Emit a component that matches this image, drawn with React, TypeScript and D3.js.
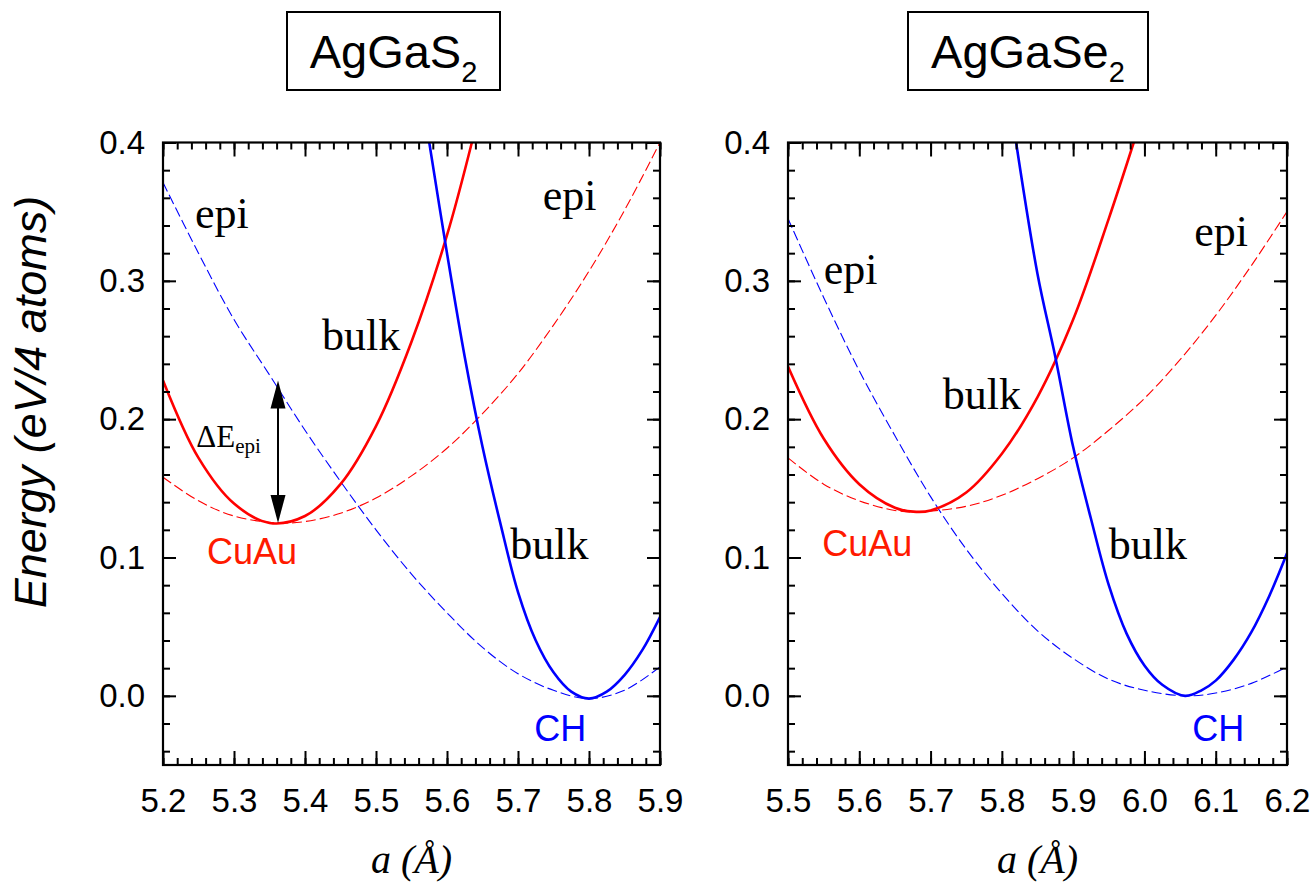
import React, { useRef, useEffect } from 'react';
import * as d3 from 'd3';

// AgGaS2 (left panel), a in Angstrom, E in eV/4 atoms
const sCuAuBulk = [[5.20, 0.228], [5.25, 0.172], [5.30, 0.139], [5.35, 0.125], [5.40, 0.130], [5.45, 0.153], [5.50, 0.195], [5.55, 0.256], [5.60, 0.333], [5.635, 0.400]];
const sCuAuEpi = [[5.20, 0.158], [5.25, 0.141], [5.30, 0.130], [5.362, 0.125], [5.40, 0.126], [5.45, 0.132], [5.50, 0.143], [5.55, 0.159], [5.60, 0.179], [5.65, 0.204], [5.70, 0.233], [5.75, 0.268], [5.80, 0.307], [5.85, 0.351], [5.90, 0.400]];
const sChBulk = [[5.575, 0.400], [5.60, 0.320], [5.625, 0.245], [5.65, 0.180], [5.675, 0.125], [5.70, 0.075], [5.725, 0.040], [5.75, 0.017], [5.775, 0.003], [5.80, -0.002], [5.825, 0.003], [5.85, 0.015], [5.875, 0.033], [5.90, 0.057]];
const sChEpi = [[5.20, 0.371], [5.25, 0.320], [5.30, 0.272], [5.35, 0.232], [5.40, 0.192], [5.45, 0.155], [5.50, 0.120], [5.55, 0.088], [5.60, 0.060], [5.65, 0.035], [5.70, 0.016], [5.75, 0.004], [5.80, -0.002], [5.85, 0.004], [5.90, 0.021]];

// AgGaSe2 (right panel)
const seCuAuBulk = [[5.50, 0.238], [5.55, 0.186], [5.60, 0.153], [5.65, 0.136], [5.68, 0.133], [5.70, 0.134], [5.75, 0.147], [5.80, 0.175], [5.85, 0.216], [5.90, 0.272], [5.95, 0.345], [5.985, 0.400]];
const seCuAuEpi = [[5.50, 0.172], [5.55, 0.153], [5.60, 0.141], [5.65, 0.134], [5.68, 0.133], [5.75, 0.137], [5.80, 0.145], [5.85, 0.157], [5.90, 0.172], [5.95, 0.192], [6.00, 0.215], [6.05, 0.243], [6.10, 0.275], [6.15, 0.311], [6.20, 0.350]];
const seChBulk = [[5.82, 0.400], [5.85, 0.305], [5.875, 0.245], [5.90, 0.180], [5.925, 0.128], [5.95, 0.080], [5.975, 0.045], [6.00, 0.022], [6.025, 0.008], [6.057, 0.000], [6.08, 0.004], [6.10, 0.011], [6.125, 0.026], [6.15, 0.046], [6.175, 0.072], [6.20, 0.103]];
const seChEpi = [[5.50, 0.345], [5.55, 0.288], [5.60, 0.235], [5.65, 0.188], [5.70, 0.144], [5.75, 0.106], [5.80, 0.074], [5.85, 0.047], [5.90, 0.027], [5.95, 0.012], [6.00, 0.004], [6.057, 0.000], [6.10, 0.002], [6.15, 0.009], [6.20, 0.021]];

const yDomain = [-0.05, 0.4];
const yMajor = [0.0, 0.1, 0.2, 0.3, 0.4];
const sXDomain = [5.2, 5.9];
const seXDomain = [5.5, 6.2];

// delta E_epi arrow on the AgGaS2 panel: [a, E top, E bottom]
const deltaEpi = [5.362, 0.228, 0.125];

const SANS = "'Liberation Sans', Arial, sans-serif";
const SERIF = "'Liberation Serif', 'Times New Roman', serif";
const RED = '#ff0000';
const BLUE = '#0000ff';

const panels = [
  {
    title: 'AgGaS', left: 163, right: 660, box: [287, 500], xDomain: sXDomain,
    curves: [
      { data: sCuAuEpi, color: RED, dashed: true },
      { data: sChEpi, color: BLUE, dashed: true },
      { data: sCuAuBulk, color: RED, dashed: false },
      { data: sChBulk, color: BLUE, dashed: false },
    ],
    labels: [
      { t: 'epi', a: 5.245, e: 0.338, serif: true, color: '#000' },
      { t: 'epi', a: 5.735, e: 0.351, serif: true, color: '#000' },
      { t: 'bulk', a: 5.424, e: 0.250, serif: true, color: '#000' },
      { t: 'bulk', a: 5.689, e: 0.099, serif: true, color: '#000' },
      { t: 'CuAu', a: 5.262, e: 0.095, serif: false, color: '#ff1a00' },
      { t: 'CH', a: 5.723, e: -0.033, serif: false, color: BLUE },
    ],
    arrow: true,
  },
  {
    title: 'AgGaSe', left: 788, right: 1287, box: [908, 1148], xDomain: seXDomain,
    curves: [
      { data: seCuAuEpi, color: RED, dashed: true },
      { data: seChEpi, color: BLUE, dashed: true },
      { data: seCuAuBulk, color: RED, dashed: false },
      { data: seChBulk, color: BLUE, dashed: false },
    ],
    labels: [
      { t: 'epi', a: 5.55, e: 0.298, serif: true, color: '#000' },
      { t: 'epi', a: 6.07, e: 0.325, serif: true, color: '#000' },
      { t: 'bulk', a: 5.717, e: 0.207, serif: true, color: '#000' },
      { t: 'bulk', a: 5.95, e: 0.099, serif: true, color: '#000' },
      { t: 'CuAu', a: 5.548, e: 0.101, serif: false, color: '#ff1a00' },
      { t: 'CH', a: 6.067, e: -0.033, serif: false, color: BLUE },
    ],
    arrow: false,
  },
];

const yTop = 142.5;
const yBot = 765;

function App() {
  const svgRef = useRef(null);

  useEffect(() => {
    const svg = d3.select(svgRef.current);
    svg.selectAll('*').remove();

    svg.append('text')
      .attr('transform', 'translate(46,402) rotate(-90)')
      .attr('text-anchor', 'middle')
      .attr('font-family', SANS)
      .attr('font-style', 'italic')
      .attr('font-size', 45)
      .text('Energy (eV/4 atoms)');

    panels.forEach((p, i) => {
      const x = d3.scaleLinear().domain(p.xDomain).range([p.left, p.right]);
      const y = d3.scaleLinear().domain(yDomain).range([yBot, yTop]);
      const g = svg.append('g');

      const clipId = 'plotclip' + i;
      g.append('clipPath').attr('id', clipId)
        .append('rect')
        .attr('x', p.left).attr('y', yTop)
        .attr('width', p.right - p.left).attr('height', yBot - yTop);

      // title box
      g.append('rect')
        .attr('x', p.box[0]).attr('y', 12)
        .attr('width', p.box[1] - p.box[0]).attr('height', 78)
        .attr('fill', 'none').attr('stroke', '#000').attr('stroke-width', 2);
      const tt = g.append('text')
        .attr('x', (p.box[0] + p.box[1]) / 2).attr('y', 68)
        .attr('text-anchor', 'middle')
        .attr('font-family', SANS).attr('font-size', 47);
      tt.append('tspan').text(p.title);
      tt.append('tspan').attr('font-size', 29).attr('dy', 14).text('2');

      const line = d3.line()
        .x(d => x(d[0]))
        .y(d => y(d[1]))
        .curve(d3.curveCatmullRom.alpha(0.5));

      p.curves.forEach(c => {
        g.append('path')
          .attr('d', line(c.data))
          .attr('fill', 'none')
          .attr('stroke', c.color)
          .attr('stroke-width', c.dashed ? 1.1 : 2.6)
          .attr('stroke-dasharray', c.dashed ? '10,4' : null)
          .attr('clip-path', `url(#${clipId})`);
      });

      // ticks, all inward
      const xMajor = d3.range(0, 8).map(k => p.xDomain[0] + k * 0.1);
      const xMinor = d3.range(0, 36).map(k => p.xDomain[0] + k * 0.02);
      const yMinor = d3.range(0, 23).map(k => -0.04 + k * 0.02);

      const styleAxis = sel => {
        sel.select('.domain').remove();
        sel.selectAll('line').attr('stroke', '#000').attr('stroke-width', 2);
        sel.attr('font-family', SANS).attr('font-size', 33);
        sel.selectAll('text').attr('fill', '#000');
      };

      g.append('g').attr('transform', `translate(0,${yBot})`)
        .call(d3.axisBottom(x).tickValues(xMinor).tickSize(-7).tickFormat(() => ''))
        .call(styleAxis);
      g.append('g').attr('transform', `translate(0,${yBot})`)
        .call(d3.axisBottom(x).tickValues(xMajor).tickSize(-14).tickPadding(24).tickFormat(d3.format('.1f')))
        .call(styleAxis);
      g.append('g').attr('transform', `translate(0,${yTop})`)
        .call(d3.axisTop(x).tickValues(xMinor).tickSize(-7).tickFormat(() => ''))
        .call(styleAxis);
      g.append('g').attr('transform', `translate(0,${yTop})`)
        .call(d3.axisTop(x).tickValues(xMajor).tickSize(-14).tickFormat(() => ''))
        .call(styleAxis);

      g.append('g').attr('transform', `translate(${p.left},0)`)
        .call(d3.axisLeft(y).tickValues(yMinor).tickSize(-7).tickFormat(() => ''))
        .call(styleAxis);
      g.append('g').attr('transform', `translate(${p.left},0)`)
        .call(d3.axisLeft(y).tickValues(yMajor).tickSize(-13).tickPadding(18).tickFormat(d3.format('.1f')))
        .call(styleAxis);
      g.append('g').attr('transform', `translate(${p.right},0)`)
        .call(d3.axisRight(y).tickValues(yMinor).tickSize(-7).tickFormat(() => ''))
        .call(styleAxis);
      g.append('g').attr('transform', `translate(${p.right},0)`)
        .call(d3.axisRight(y).tickValues(yMajor).tickSize(-13).tickFormat(() => ''))
        .call(styleAxis);

      g.append('rect')
        .attr('x', p.left).attr('y', yTop)
        .attr('width', p.right - p.left).attr('height', yBot - yTop)
        .attr('fill', 'none').attr('stroke', '#000').attr('stroke-width', 2.2);

      // curve labels
      p.labels.forEach(l => {
        g.append('text')
          .attr('x', x(l.a)).attr('y', y(l.e))
          .attr('font-family', l.serif ? SERIF : SANS)
          .attr('font-size', l.serif ? 44 : 36)
          .attr('fill', l.color)
          .text(l.t);
      });

      // x axis title
      g.append('text')
        .attr('x', (p.left + p.right) / 2).attr('y', 873)
        .attr('text-anchor', 'middle')
        .attr('font-family', SERIF).attr('font-style', 'italic').attr('font-size', 40)
        .text('a (Å)');

      if (p.arrow) {
        const ax = x(deltaEpi[0]);
        const yT = y(deltaEpi[1]);
        const yB = y(deltaEpi[2]);
        const headL = 28, headW = 7.5;
        g.append('line')
          .attr('x1', ax).attr('x2', ax)
          .attr('y1', yT + headL - 2).attr('y2', yB - headL + 2)
          .attr('stroke', '#000').attr('stroke-width', 2);
        g.append('path')
          .attr('d', `M${ax},${yT}L${ax - headW},${yT + headL}L${ax + headW},${yT + headL}Z`)
          .attr('fill', '#000');
        g.append('path')
          .attr('d', `M${ax},${yB}L${ax - headW},${yB - headL}L${ax + headW},${yB - headL}Z`)
          .attr('fill', '#000');
        const dt = g.append('text')
          .attr('x', x(5.247)).attr('y', y(0.180))
          .attr('font-family', SERIF).attr('font-size', 31);
        dt.append('tspan').text('ΔE');
        dt.append('tspan').attr('font-size', 21).attr('dy', 6).text('epi');
      }
    });
  }, []);

  return (
    <svg ref={svgRef} width={1312} height={887}
      style={{ position: 'absolute', left: 0, top: 0, background: '#fff' }}>
    </svg>
  );
}

export default App;
